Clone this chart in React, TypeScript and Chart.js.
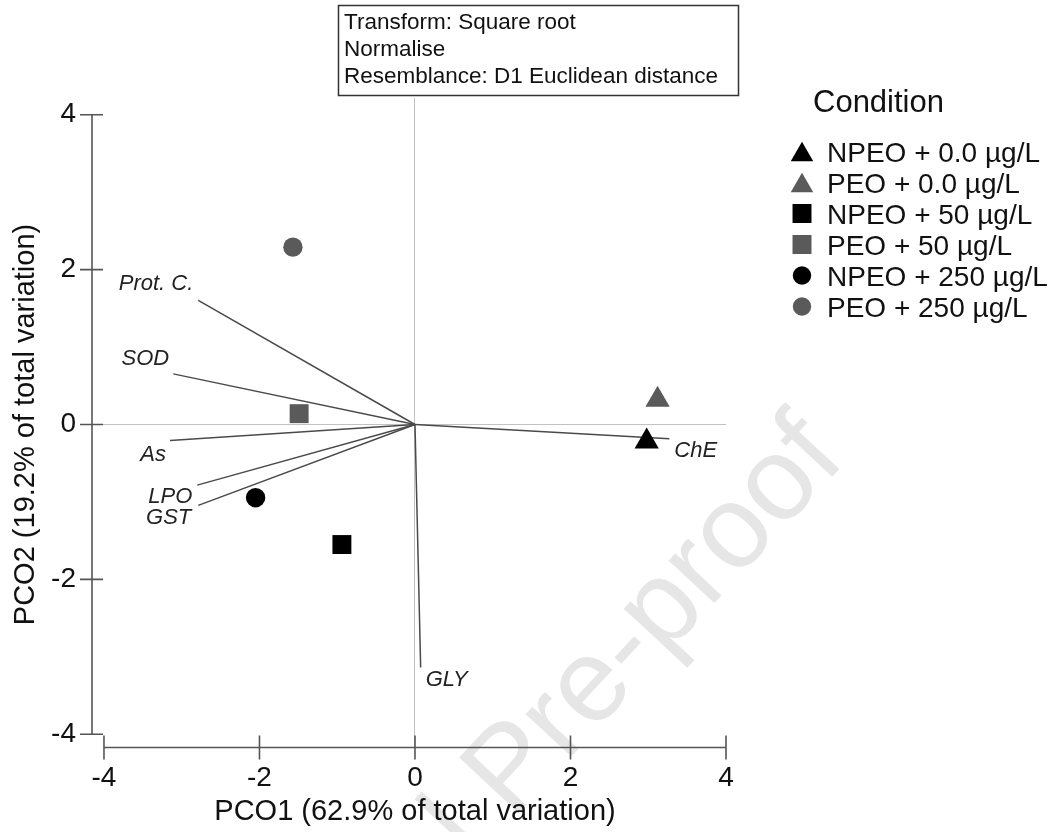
import React, { useEffect, useRef } from "react";
import { Chart, registerables } from "chart.js";

Chart.register(...registerables);

// ---------- data ----------
const CONDITIONS = [
  "NPEO + 0.0 µg/L",
  "PEO + 0.0 µg/L",
  "NPEO + 50 µg/L",
  "PEO + 50 µg/L",
  "NPEO + 250 µg/L",
  "PEO + 250 µg/L",
];
const PCO1 = [2.98, 3.12, -0.94, -1.49, -2.05, -1.57];
const PCO2 = [-0.22, 0.32, -1.55, 0.14, -0.945, 2.29];
const MARKERS = ["triangle", "triangle", "rect", "rect", "circle", "circle"];

const VARIABLES = ["Prot. C.", "SOD", "As", "LPO", "GST", "ChE", "GLY"];
const VEC_X = [-2.787, -3.109, -3.151, -2.8, -2.787, 3.271, 0.073];
const VEC_Y = [1.603, 0.654, -0.206, -0.783, -1.044, -0.184, -3.137];

const TICKS = [-4, -2, 0, 2, 4];
const X_TITLE = "PCO1 (62.9% of total variation)";
const Y_TITLE = "PCO2 (19.2% of total variation)";
const BOX_LINES = ["Transform: Square root", "Normalise", "Resemblance: D1 Euclidean distance"];
const LEGEND_TITLE = "Condition";
const WATERMARK_A = "Journal ";
const WATERMARK_B = "Pre-proof";

// ---------- styles ----------
const FONT = '"Liberation Sans", Arial, Helvetica, sans-serif';
const BLACK = "#000000";
const GREY = "#5a5a5a";
const COLORS = [BLACK, GREY, BLACK, GREY, BLACK, GREY];
const POINT_RADIUS: Record<string, number> = { triangle: 14, rect: 13.4, circle: 9.7 };
const LEGEND_RADIUS: Record<string, number> = { triangle: 13, rect: 13.4, circle: 9.2 };
const AXIS_COLOR = "#555555";
const VECTOR_COLOR = "#4a4a4a";
// label placement relative to vector tip: [dx, dy, align]
const LABEL_PLACEMENT: [number, number, CanvasTextAlign][] = [
  [-5, -16, "right"],
  [-4, -15, "right"],
  [-4, 14, "right"],
  [-5, 12, "right"],
  [-7, 13, "right"],
  [5, 12, "left"],
  [5, 12, "left"],
];

function drawMarker(ctx: CanvasRenderingContext2D, style: string, x: number, y: number, r: number, color: string) {
  ctx.fillStyle = color;
  ctx.beginPath();
  if (style === "triangle") {
    ctx.moveTo(x, y - r);
    ctx.lineTo(x + r * Math.sin((2 * Math.PI) / 3), y + r / 2);
    ctx.lineTo(x - r * Math.sin((2 * Math.PI) / 3), y + r / 2);
    ctx.closePath();
  } else if (style === "rect") {
    const s = Math.SQRT1_2 * r;
    ctx.rect(x - s, y - s, 2 * s, 2 * s);
  } else {
    ctx.arc(x, y, r, 0, Math.PI * 2);
  }
  ctx.fill();
}

const decorPlugin = {
  id: "pcoDecor",
  beforeDraw(chart: any) {
    const ctx: CanvasRenderingContext2D = chart.ctx;
    ctx.save();
    ctx.fillStyle = "#ffffff";
    ctx.fillRect(0, 0, chart.width, chart.height);
    // watermark
    ctx.translate(512, 820);
    ctx.rotate((-47 * Math.PI) / 180);
    ctx.font = `118px ${FONT}`;
    ctx.fillStyle = "#e6e6e6";
    ctx.textBaseline = "alphabetic";
    ctx.textAlign = "left";
    ctx.fillText(WATERMARK_B, 0, 0);
    ctx.textAlign = "right";
    ctx.fillText(WATERMARK_A, 0, 0);
    ctx.restore();
  },
  afterDraw(chart: any) {
    const ctx: CanvasRenderingContext2D = chart.ctx;
    const xs = chart.scales.x;
    const ys = chart.scales.y;
    const area = chart.chartArea;
    ctx.save();

    // axes (detached)
    ctx.strokeStyle = AXIS_COLOR;
    ctx.lineWidth = 1.6;
    const axX = area.left;
    const axY = area.bottom - 0.5;
    const x0 = xs.getPixelForValue(TICKS[0]);
    const x1 = xs.getPixelForValue(TICKS[TICKS.length - 1]);
    const y0 = ys.getPixelForValue(TICKS[0]);
    const y1 = ys.getPixelForValue(TICKS[TICKS.length - 1]);
    ctx.beginPath();
    ctx.moveTo(x0, axY);
    ctx.lineTo(x1, axY);
    ctx.moveTo(axX, y0);
    ctx.lineTo(axX, y1);
    for (const t of TICKS) {
      const px = xs.getPixelForValue(t);
      ctx.moveTo(px, axY - 12);
      ctx.lineTo(px, axY + 12);
      const py = ys.getPixelForValue(t);
      ctx.moveTo(axX - 12, py);
      ctx.lineTo(axX + 11, py);
    }
    ctx.stroke();

    // vector labels
    ctx.fillStyle = "#222222";
    ctx.font = `italic 22px ${FONT}`;
    ctx.textBaseline = "middle";
    VARIABLES.forEach((name, i) => {
      const [dx, dy, align] = LABEL_PLACEMENT[i];
      ctx.textAlign = align;
      ctx.fillText(name, xs.getPixelForValue(VEC_X[i]) + dx, ys.getPixelForValue(VEC_Y[i]) + dy);
    });

    // axis titles
    ctx.fillStyle = "#111111";
    ctx.font = `29px ${FONT}`;
    ctx.textAlign = "center";
    ctx.textBaseline = "middle";
    ctx.fillText(X_TITLE, (x0 + x1) / 2, 812);
    ctx.save();
    ctx.translate(26, (y0 + y1) / 2);
    ctx.rotate(-Math.PI / 2);
    ctx.fillText(Y_TITLE, 0, 0);
    ctx.restore();

    // info box
    ctx.strokeStyle = "#333333";
    ctx.lineWidth = 1.5;
    ctx.strokeRect(338.5, 5.5, 400, 90);
    ctx.fillStyle = "#111111";
    ctx.font = `22.5px ${FONT}`;
    ctx.textAlign = "left";
    ctx.textBaseline = "alphabetic";
    BOX_LINES.forEach((line, i) => ctx.fillText(line, 344, 28.5 + i * 27.4));

    // legend
    ctx.font = `31px ${FONT}`;
    ctx.fillStyle = "#111111";
    ctx.fillText(LEGEND_TITLE, 813, 112);
    ctx.font = `28px ${FONT}`;
    CONDITIONS.forEach((label, i) => {
      const yc = 151.5 + i * 31;
      const style = MARKERS[i];
      const r = LEGEND_RADIUS[style];
      const my = style === "triangle" ? yc + r / 4 : yc;
      drawMarker(ctx, style, 802, my, r, COLORS[i]);
      ctx.fillStyle = "#111111";
      ctx.fillText(label, 827, yc + (0.716 * 28) / 2);
    });

    ctx.restore();
  },
};

export default function App() {
  const ref = useRef<HTMLCanvasElement>(null);

  useEffect(() => {
    const canvas = ref.current;
    if (!canvas) return;

    const pointSets = CONDITIONS.map((label, i) => ({
      type: "scatter" as const,
      label,
      data: [{ x: PCO1[i], y: PCO2[i] }],
      pointStyle: MARKERS[i],
      pointRadius: POINT_RADIUS[MARKERS[i]],
      pointHoverRadius: POINT_RADIUS[MARKERS[i]],
      backgroundColor: COLORS[i],
      borderColor: COLORS[i],
      borderWidth: 0,
      order: 0,
    }));
    const vectorSets = VARIABLES.map((label, i) => ({
      type: "line" as const,
      label,
      data: [
        { x: 0, y: 0 },
        { x: VEC_X[i], y: VEC_Y[i] },
      ],
      borderColor: VECTOR_COLOR,
      borderWidth: 1.5,
      pointRadius: 0,
      fill: false,
      tension: 0,
      order: 1,
    }));

    const zeroGrid = (c: any) => (c.tick && c.tick.value === 0 ? "#c2c2c2" : "rgba(0,0,0,0)");

    const chart = new Chart(canvas, {
      type: "scatter",
      data: { datasets: [...pointSets, ...vectorSets] as any },
      options: {
        animation: false,
        responsive: false,
        devicePixelRatio: 1,
        layout: { padding: { top: 98, right: 329, left: 0, bottom: 0 } },
        plugins: {
          legend: { display: false },
          tooltip: { enabled: false },
          title: { display: false },
        },
        scales: {
          x: {
            type: "linear",
            min: -4.154,
            max: 4,
            afterBuildTicks: (s: any) => {
              s.ticks = TICKS.map((v) => ({ value: v }));
            },
            afterFit: (s: any) => {
              s.height = 84;
            },
            grid: { color: zeroGrid, lineWidth: 1, drawTicks: false },
            border: { display: false },
            ticks: {
              padding: 13,
              color: "#111111",
              font: { family: FONT, size: 28 },
              autoSkip: false,
              maxRotation: 0,
              callback: (v: any) => String(v),
            },
          },
          y: {
            type: "linear",
            min: -4.177,
            max: 4.216,
            afterBuildTicks: (s: any) => {
              s.ticks = TICKS.map((v) => ({ value: v }));
            },
            afterFit: (s: any) => {
              s.width = 92;
            },
            grid: { color: zeroGrid, lineWidth: 1, drawTicks: false },
            border: { display: false },
            ticks: {
              padding: 16,
              color: "#111111",
              font: { family: FONT, size: 28 },
              autoSkip: false,
              callback: (v: any) => String(v),
            },
          },
        },
      },
      plugins: [decorPlugin],
    });

    return () => chart.destroy();
  }, []);

  return (
    <div style={{ position: "absolute", left: 0, top: 0, width: 1055, height: 832, background: "#fff" }}>
      <canvas ref={ref} width={1055} height={832} style={{ display: "block", width: 1055, height: 832 }} />
    </div>
  );
}
